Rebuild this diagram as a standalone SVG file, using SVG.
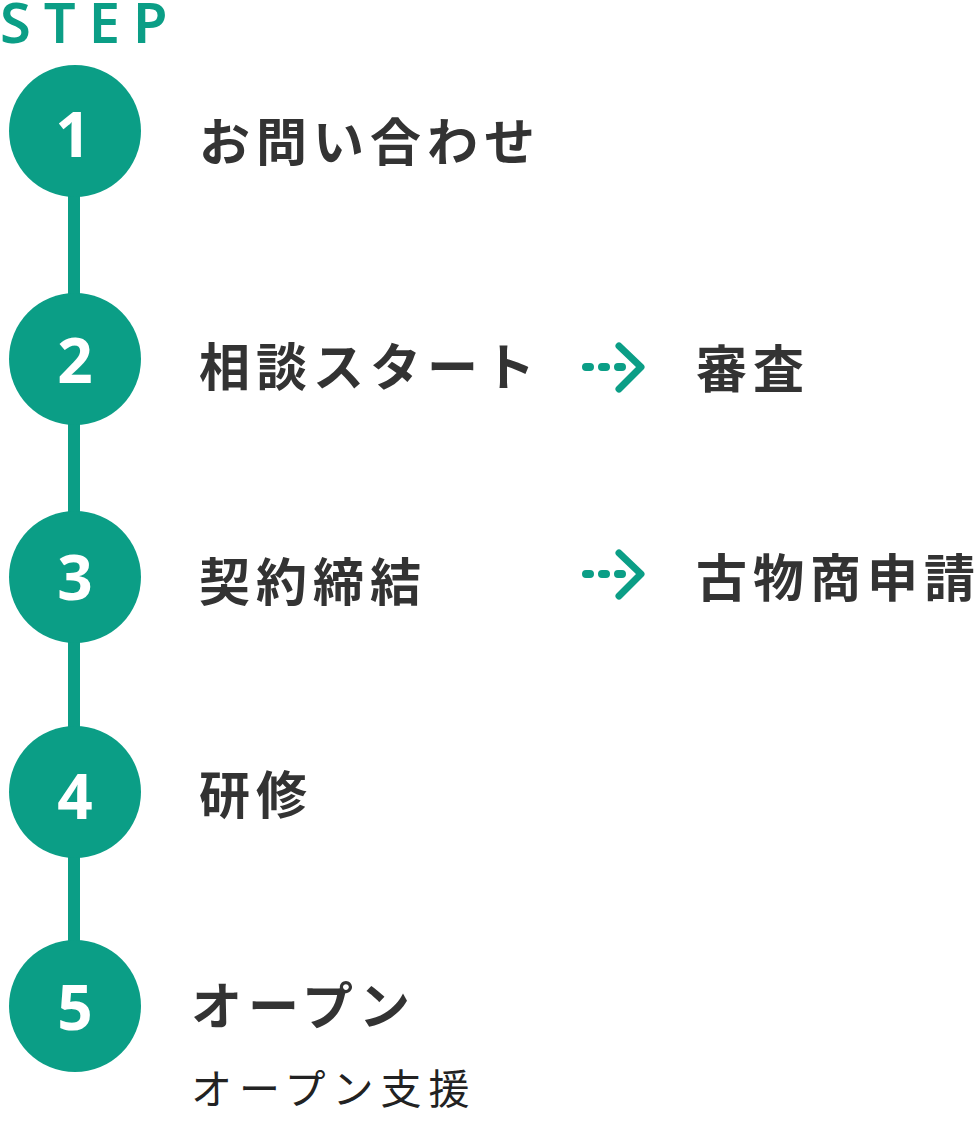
<svg xmlns="http://www.w3.org/2000/svg" width="980" height="1121" viewBox="0 0 980 1121">
<style>
.step{font-family:"Noto Sans","Liberation Sans",sans-serif;font-weight:600;font-size:56px;fill:#0b9e86;letter-spacing:13px}
.num{font-family:"Noto Sans","Liberation Sans",sans-serif;font-weight:700;font-size:62px;fill:#fff;text-anchor:middle}
.circ{fill:#0b9e86}
.lbl{font-family:"Noto Sans CJK JP","Noto Sans",sans-serif;font-weight:700;font-size:51px;fill:#333;letter-spacing:6px}
.sub{font-family:"Noto Sans CJK JP","Noto Sans",sans-serif;font-weight:400;font-size:41px;fill:#222;letter-spacing:7px}
.dash{stroke:#0b9e86;stroke-width:8;stroke-linecap:round;stroke-dasharray:4 12;fill:none}
.chev{stroke:#0b9e86;stroke-width:7;stroke-linecap:round;stroke-linejoin:round;fill:none}
</style>
<text class="step" x="0" y="43">STEP</text>
<g id="connectors">
<line x1="74" y1="131" x2="74" y2="1006" stroke="#0b9e86" stroke-width="12"/>
<g id="arrow1"><line class="dash" x1="586" y1="367" x2="624" y2="367"/><polyline class="chev" points="619,346 641,367 619,389"/></g>
<g id="arrow2"><line class="dash" x1="586" y1="574" x2="624" y2="574"/><polyline class="chev" points="619,553 641,574 619,596"/></g>
</g>
<g id="step1"><circle class="circ" cx="75" cy="131" r="66"/><text class="num" x="73" y="157">1</text><text class="lbl" x="199" y="161">お問い合わせ</text></g>
<g id="step2"><circle class="circ" cx="75" cy="359" r="66"/><text class="num" x="75" y="383">2</text><text class="lbl" x="199" y="386">相談スタート</text></g>
<g id="shinsa"><text class="lbl" x="696" y="388">審査</text></g>
<g id="step3"><circle class="circ" cx="75" cy="577" r="66"/><text class="num" x="75" y="600">3</text><text class="lbl" x="199" y="601">契約締結</text></g>
<g id="kobutsu"><text class="lbl" x="696" y="597">古物商申請</text></g>
<g id="step4"><circle class="circ" cx="75" cy="792" r="66"/><text class="num" x="75" y="819">4</text><text class="lbl" x="199" y="814">研修</text></g>
<g id="step5"><circle class="circ" cx="75" cy="1006" r="66"/><text class="num" x="75" y="1030">5</text><text class="lbl" x="191" y="1025">オープン</text><text class="sub" x="191" y="1104">オープン支援</text></g>
</svg>
